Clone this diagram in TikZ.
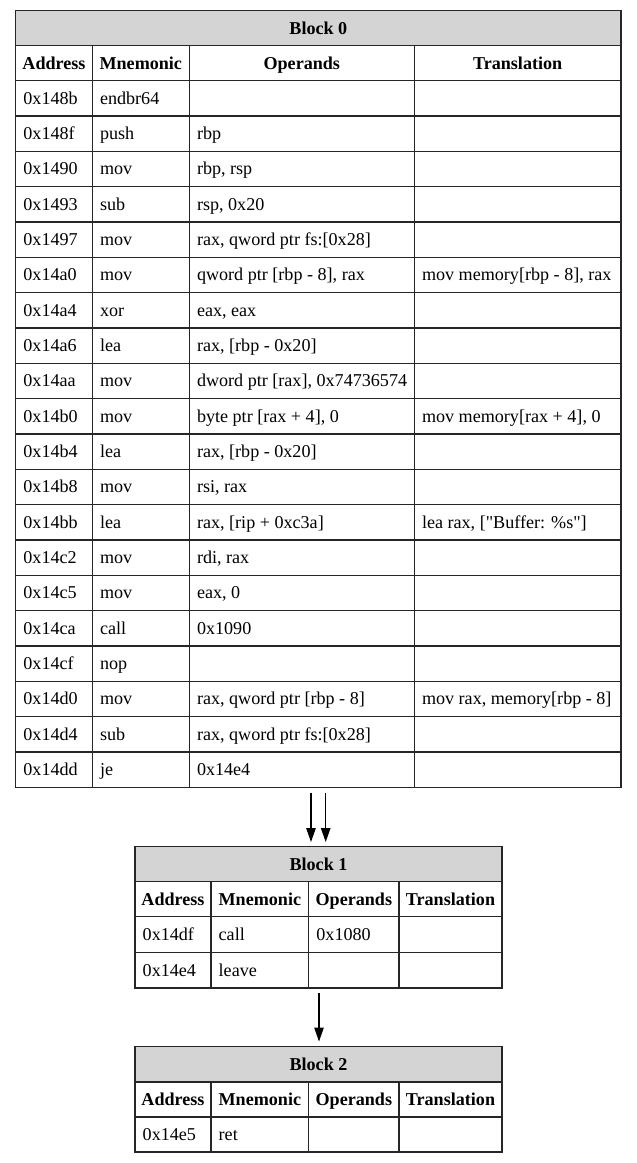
\documentclass[tikz,border=0pt]{standalone}
\usepackage{fontspec}
\setmainfont{Liberation Serif}
\newfontfamily\rawserif{Liberation Serif}
\usetikzlibrary{arrows.meta}
\tikzset{
  grid/.style={draw=black!85, line width=1.1pt},
  hdr/.style={grid, fill=black!17},
  celltxt/.style={anchor=base west, inner sep=0pt, font=\fontsize{18.1}{20}\selectfont},
  headtxt/.style={anchor=base, inner sep=0pt, font=\fontsize{18.1}{20}\selectfont\bfseries},
  flow/.style={-{Triangle[length=14pt,width=9.5pt]}, line width=1.1pt, draw=black}
}
\newcommand\setcols[5]{\def\colA{#1}\def\colB{#2}\def\colC{#3}\def\colD{#4}\def\colE{#5}}
% title row: name, top, bottom, text
\newcommand\titlerow[4]{%
  \draw[hdr] (\colA,#2) rectangle (\colE,#3);
  \node[headtxt] (#1) at ({(\colA+\colE)/2},{(#2+#3)/2+5.8}) {#4};
}
% column header row: name, top, bottom
\newcommand\headrow[3]{%
  \draw[grid] (\colA,#2) rectangle (\colB,#3);
  \draw[grid] (\colB,#2) rectangle (\colC,#3);
  \draw[grid] (\colC,#2) rectangle (\colD,#3);
  \draw[grid] (\colD,#2) rectangle (\colE,#3);
  \node[headtxt] (#1-a) at ({(\colA+\colB)/2},{(#2+#3)/2+5.8}) {Address};
  \node[headtxt] (#1-b) at ({(\colB+\colC)/2},{(#2+#3)/2+5.8}) {Mnemonic};
  \node[headtxt] (#1-c) at ({(\colC+\colD)/2},{(#2+#3)/2+5.8}) {Operands};
  \node[headtxt] (#1-d) at ({(\colD+\colE)/2},{(#2+#3)/2+5.8}) {Translation};
}
% data row: name, top, bottom, addr, mnem, ops, trans
\newcommand\datarow[7]{%
  \draw[grid] (\colA,#2) rectangle (\colB,#3);
  \draw[grid] (\colB,#2) rectangle (\colC,#3);
  \draw[grid] (\colC,#2) rectangle (\colD,#3);
  \draw[grid] (\colD,#2) rectangle (\colE,#3);
  \node[celltxt] (#1-a) at ({\colA+7.5},{(#2+#3)/2+5.8}) {#4};
  \node[celltxt] (#1-b) at ({\colB+7.5},{(#2+#3)/2+5.8}) {#5};
  \node[celltxt] (#1-c) at ({\colC+7.5},{(#2+#3)/2+5.8}) {#6};
  \node[celltxt] (#1-d) at ({\colD+7.5},{(#2+#3)/2+5.8}) {#7};
}
% block 0 row by index
\newcommand\zrow[5]{\datarow{z#1}{80.7+#1*35.33}{80.7+#1*35.33+35.33}{#2}{#3}{#4}{#5}}
\begin{document}
\begin{tikzpicture}[x=1pt,y=-1pt]
\useasboundingbox (0,0) rectangle (637,1163);
% ---------- Block 0 ----------
\setcols{15.7}{92.3}{189.3}{414.3}{621}
\titlerow{b0}{10.7}{45.7}{Block 0}
\headrow{b0h}{45.7}{80.7}
\zrow{0}{0x148b}{endbr64}{}{}
\zrow{1}{0x148f}{push}{rbp}{}
\zrow{2}{0x1490}{mov}{rbp, rsp}{}
\zrow{3}{0x1493}{sub}{rsp, 0x20}{}
\zrow{4}{0x1497}{mov}{rax, qword ptr fs:[0x28]}{}
\zrow{5}{0x14a0}{mov}{qword ptr [rbp - 8], rax}{mov memory[rbp - 8], rax}
\zrow{6}{0x14a4}{xor}{eax, eax}{}
\zrow{7}{0x14a6}{lea}{rax, [rbp - 0x20]}{}
\zrow{8}{0x14aa}{mov}{dword ptr [rax], 0x74736574}{}
\zrow{9}{0x14b0}{mov}{byte ptr [rax + 4], 0}{mov memory[rax + 4], 0}
\zrow{10}{0x14b4}{lea}{rax, [rbp - 0x20]}{}
\zrow{11}{0x14b8}{mov}{rsi, rax}{}
\zrow{12}{0x14bb}{lea}{rax, [rip + 0xc3a]}{{\rawserif lea rax, ["Buffer: \%s"]}}
\zrow{13}{0x14c2}{mov}{rdi, rax}{}
\zrow{14}{0x14c5}{mov}{eax, 0}{}
\zrow{15}{0x14ca}{call}{0x1090}{}
\zrow{16}{0x14cf}{nop}{}{}
\zrow{17}{0x14d0}{mov}{rax, qword ptr [rbp - 8]}{mov rax, memory[rbp - 8]}
\zrow{18}{0x14d4}{sub}{rax, qword ptr fs:[0x28]}{}
\zrow{19}{0x14dd}{je}{0x14e4}{}
% ---------- Block 1 ----------
\setcols{135}{211}{308.7}{399}{502}
\titlerow{b1}{846.7}{881.7}{Block 1}
\headrow{b1h}{881.7}{916.7}
\datarow{o0}{916.7}{952.5}{0x14df}{call}{0x1080}{}
\datarow{o1}{952.5}{988}{0x14e4}{leave}{}{}
% ---------- Block 2 ----------
\titlerow{b2}{1046.7}{1082}{Block 2}
\headrow{b2h}{1082}{1117}
\datarow{t0}{1117}{1152}{0x14e5}{ret}{}{}
% ---------- connectors ----------
\coordinate (e1s) at (311,792.7);
\coordinate (e1e) at (311,842);
\coordinate (e2s) at (325.7,792.7);
\coordinate (e2e) at (325.7,842);
\coordinate (e3s) at (319,993);
\coordinate (e3e) at (319,1041.5);
\draw[flow] (e1s) -- (e1e);
\draw[flow] (e2s) -- (e2e);
\draw[flow] (e3s) -- (e3e);
\end{tikzpicture}
\end{document}
